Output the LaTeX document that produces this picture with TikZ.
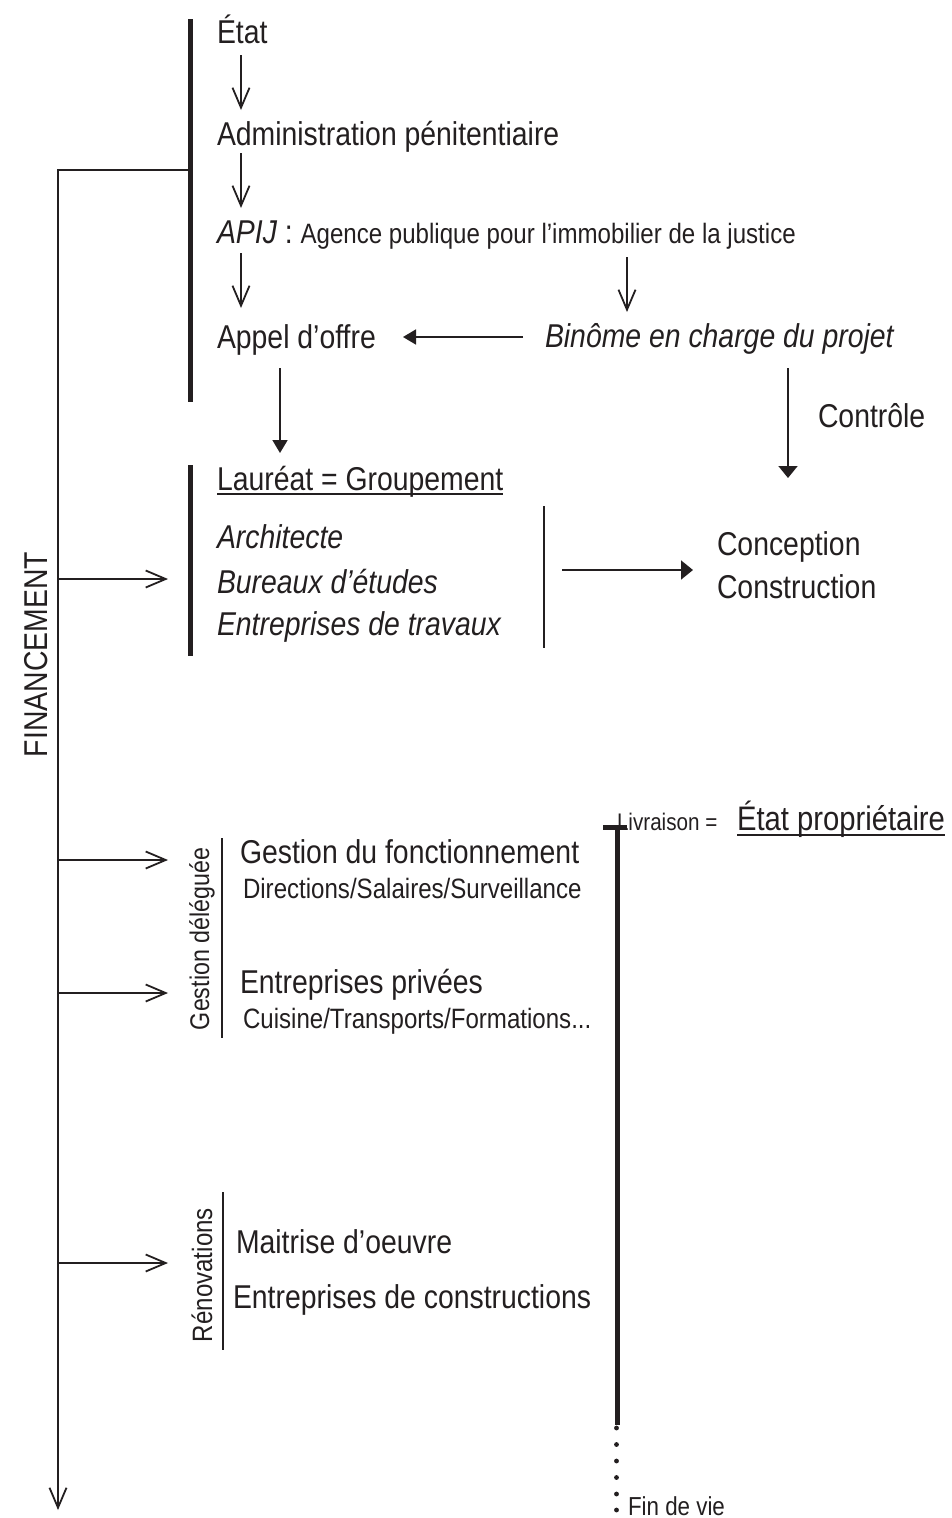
\documentclass[tikz,border=0pt]{standalone}
\usepackage{fontspec}
\setmainfont{Liberation Sans}[FakeStretch=0.86]
\usetikzlibrary{arrows.meta}
\definecolor{ink}{RGB}{35,31,32}
\newcommand\fsz[1]{\fontsize{#1}{#1}\selectfont}
\begin{document}
\begin{tikzpicture}[x=1pt,y=-1pt,
  every node/.style={inner sep=0pt, outer sep=0pt, text=ink},
  txt/.style={anchor=base west, font=\fsz{33}},
  itxt/.style={anchor=base west, font=\fsz{33}\itshape},
  sub/.style={anchor=base west, font=\fsz{28}},
  thinln/.style={draw=ink, line width=1.8pt},
  hair/.style={draw=ink, line width=1.3pt},
  bar/.style={draw=ink, line width=5pt},
  uline/.style={draw=ink, line width=1.6pt},
  varr/.style={thinln, -{Straight Barb[length=20pt,width=17pt]}},
  farr/.style={thinln, -{Triangle[length=13pt,width=15pt]}},
  farrb/.style={thinln, -{Triangle[length=12pt,width=19pt]}},
]
\useasboundingbox (0,0) rectangle (952,1518);

% ---------- texts ----------
\node[txt] (etat) at (217,43) {État};
\node[txt] (admin) at (217,145) {Administration pénitentiaire};
\node[txt] (apij) at (217,243) {{\itshape APIJ} : {\fsz{28}Agence publique pour l’immobilier de la justice}};
\node[txt] (appel) at (217,348) {Appel d’offre};
\node[itxt] (binome) at (545,347) {Binôme en charge du projet};
\node[txt] (controle) at (818,427) {Contrôle};
\node[txt] (laureat) at (217,490) {Lauréat = Groupement};
\node[itxt] (archi) at (217,548) {Architecte};
\node[itxt] (bureaux) at (217,593) {Bureaux d’études};
\node[itxt] (entrav) at (217,635) {Entreprises de travaux};
\node[txt] (concep) at (717,555) {Conception};
\node[txt] (constr) at (717,598) {Construction};
\node[txt, rotate=90] (finance) at (47,757) {FINANCEMENT};
\node[anchor=base west, font=\fsz{24}] (livr) at (617,830) {Livraison =};
\node[anchor=base west, font=\fsz{34}] (etatprop) at (737,830) {État propriétaire};
\node[txt] (gestf) at (240,863) {Gestion du fonctionnement};
\node[sub] (dir) at (243,898) {Directions/Salaires/Surveillance};
\node[txt] (entpriv) at (240,993) {Entreprises privées};
\node[sub] (cuis) at (243,1028) {Cuisine/Transports/Formations...};
\node[anchor=base west, font=\fsz{27}, rotate=90] (gdel) at (209,1030) {Gestion déléguée};
\node[sub, rotate=90] (renov) at (212,1342) {Rénovations};
\node[txt] (moe) at (236,1253) {Maitrise d’oeuvre};
\node[txt] (entcons) at (233,1308) {Entreprises de constructions};
\node[anchor=base west, font=\fsz{26}] (fdv) at (628,1515) {Fin de vie};

% underlines
\draw[uline] ([yshift=-4pt]laureat.base west) -- ([yshift=-4pt]laureat.base east);
\draw[uline] ([yshift=-5pt]etatprop.base west) -- ([yshift=-5pt]etatprop.base east);

% ---------- coordinates ----------
\coordinate (tbA) at (190,19);
\coordinate (tbB) at (190,402);
\coordinate (tbJ) at (190,170);
\coordinate (fcorner) at (58,170);
\coordinate (fend) at (58,1510);
\coordinate (lbA) at (190,465);
\coordinate (lbB) at (190,656);
\coordinate (sepA) at (544,506);
\coordinate (sepB) at (544,648);
\coordinate (gsA) at (222,838);
\coordinate (gsB) at (222,1038);
\coordinate (rsA) at (223,1192);
\coordinate (rsB) at (223,1350);
\coordinate (a1s) at (241,55);  \coordinate (a1e) at (241,110);
\coordinate (a2s) at (241,153); \coordinate (a2e) at (241,208);
\coordinate (a3s) at (241,253); \coordinate (a3e) at (241,308);
\coordinate (a4s) at (627,257); \coordinate (a4e) at (627,312);
\coordinate (bs) at (523,337);  \coordinate (be) at (403,337);
\coordinate (ads) at (280,368); \coordinate (ade) at (280,453);
\coordinate (cts) at (788,368); \coordinate (cte) at (788,478);
\coordinate (ccs) at (562,570); \coordinate (cce) at (693,570);
\coordinate (f1s) at (58,579);  \coordinate (f1e) at (168,579);
\coordinate (f2s) at (58,860);  \coordinate (f2e) at (168,860);
\coordinate (f3s) at (58,993);  \coordinate (f3e) at (168,993);
\coordinate (f4s) at (58,1263); \coordinate (f4e) at (168,1263);
\coordinate (tA) at (617,825);
\coordinate (tB) at (617,1425);
\coordinate (tL) at (603,827.5);
\coordinate (tR) at (627,827.5);

% ---------- bars and lines ----------
\draw[bar] (tbA) -- (tbB);
\draw[bar] (lbA) -- (lbB);
\draw[hair] (sepA) -- (sepB);
\draw[hair] (gsA) -- (gsB);
\draw[hair] (rsA) -- (rsB);
\draw[varr] (tbJ) -- (fcorner) -- (fend);
\draw[bar] (tA) -- (tB);
\draw[bar] (tL) -- (tR);
\foreach \yy in {1428,1444.5,1461,1477.5,1494,1510}
  \fill[ink] (616.5,\yy) circle (2.4);

% ---------- arrows ----------
\draw[varr] (a1s) -- (a1e);
\draw[varr] (a2s) -- (a2e);
\draw[varr] (a3s) -- (a3e);
\draw[varr] (a4s) -- (a4e);
\draw[farr] (bs) -- (be);
\draw[farr] (ads) -- (ade);
\draw[farrb] (cts) -- (cte);
\draw[farrb] (ccs) -- (cce);
\draw[varr] (f1s) -- (f1e);
\draw[varr] (f2s) -- (f2e);
\draw[varr] (f3s) -- (f3e);
\draw[varr] (f4s) -- (f4e);
\end{tikzpicture}
\end{document}
